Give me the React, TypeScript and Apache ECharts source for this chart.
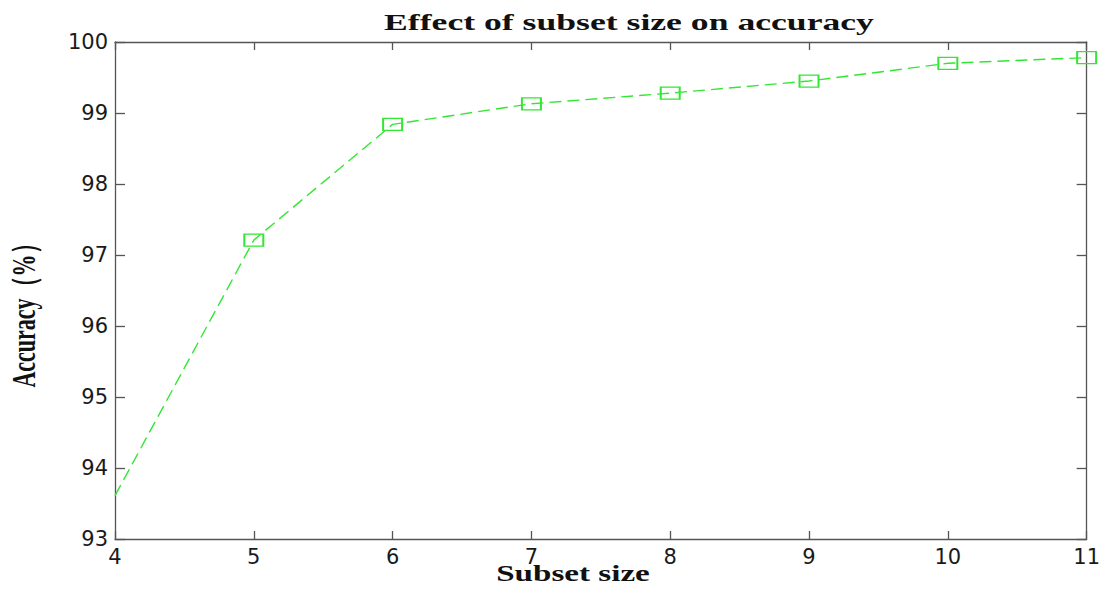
import React, { useEffect, useRef } from "react";
import * as echarts from "echarts";

const subsetSizes = [4, 5, 6, 7, 8, 9, 10, 11];
const accuracy = [93.61, 97.21, 98.84, 99.13, 99.28, 99.45, 99.7, 99.78];
const titleText = "Effect of subset size on accuracy";
const xName = "Subset size";
const yName = "Accuracy（%）";

const GREEN = "#33e633";
const AXIS = "#555555";

export default function App() {
  const ref = useRef<HTMLDivElement>(null);
  useEffect(() => {
    if (!ref.current) return;
    const chart = echarts.init(ref.current, undefined, { renderer: "svg" });
    const tickLabel = {
      show: true,
      color: "#1a1a1a",
      fontFamily: "DejaVu Sans",
      fontSize: 21,
    };
    const baseX = {
      type: "value" as const,
      min: 4,
      max: 11,
      interval: 1,
      axisLine: { show: true, lineStyle: { color: AXIS, width: 1.3 } },
      axisTick: { show: true, inside: true, length: 8, lineStyle: { color: AXIS, width: 1.3 } },
      splitLine: { show: false },
    };
    const baseY = {
      type: "value" as const,
      min: 93,
      max: 100,
      interval: 1,
      axisLine: { show: true, lineStyle: { color: AXIS, width: 1.3 } },
      axisTick: { show: true, inside: true, length: 10, lineStyle: { color: AXIS, width: 1.3 } },
      splitLine: { show: false },
    };
    const data = subsetSizes.map((x, i) =>
      i === 0 ? { value: [x, accuracy[i]], symbol: "none" } : { value: [x, accuracy[i]] }
    );
    chart.setOption({
      animation: false,
      backgroundColor: "#ffffff",
      grid: { left: 115, right: 14, top: 42, bottom: 53, containLabel: false },
      xAxis: [
        { ...baseX, position: "bottom", axisLabel: { ...tickLabel, margin: 7 } },
        { ...baseX, position: "top", axisLabel: { show: false } },
      ],
      yAxis: [
        { ...baseY, position: "left", axisLabel: { ...tickLabel, margin: 7 } },
        { ...baseY, position: "right", axisLabel: { show: false } },
      ],
      series: [
        {
          type: "line",
          xAxisIndex: 0,
          yAxisIndex: 0,
          data,
          symbol: "rect",
          symbolSize: [19, 12],
          showAllSymbol: true,
          clip: false,
          lineStyle: { color: GREEN, width: 1.4, type: [12, 6] },
          itemStyle: { color: "rgba(255,255,255,0)", borderColor: GREEN, borderWidth: 1.6 },
          z: 5,
        },
      ],
      graphic: [
        {
          type: "text",
          x: 629,
          y: 22,
          scaleX: 1.55,
          style: {
            text: titleText,
            fontFamily: "Liberation Serif",
            fontWeight: "bold",
            fontSize: 23,
            fill: "#111",
            textAlign: "center",
            textVerticalAlign: "middle",
          },
        },
        {
          type: "text",
          x: 573,
          y: 573,
          scaleX: 1.44,
          style: {
            text: xName,
            fontFamily: "Liberation Serif",
            fontWeight: "bold",
            fontSize: 23,
            fill: "#111",
            textAlign: "center",
            textVerticalAlign: "middle",
          },
        },
        {
          type: "text",
          x: 24,
          y: 310,
          rotation: Math.PI / 2,
          scaleY: 1.5,
          style: {
            text: yName,
            fontFamily: "Liberation Serif",
            fontWeight: "bold",
            fontSize: 22,
            fill: "#111",
            textAlign: "center",
            textVerticalAlign: "middle",
          },
        },
      ],
    });
    return () => chart.dispose();
  }, []);
  return (
    <div
      ref={ref}
      style={{ position: "absolute", left: 0, top: 0, width: 1103, height: 592 }}
    />
  );
}
